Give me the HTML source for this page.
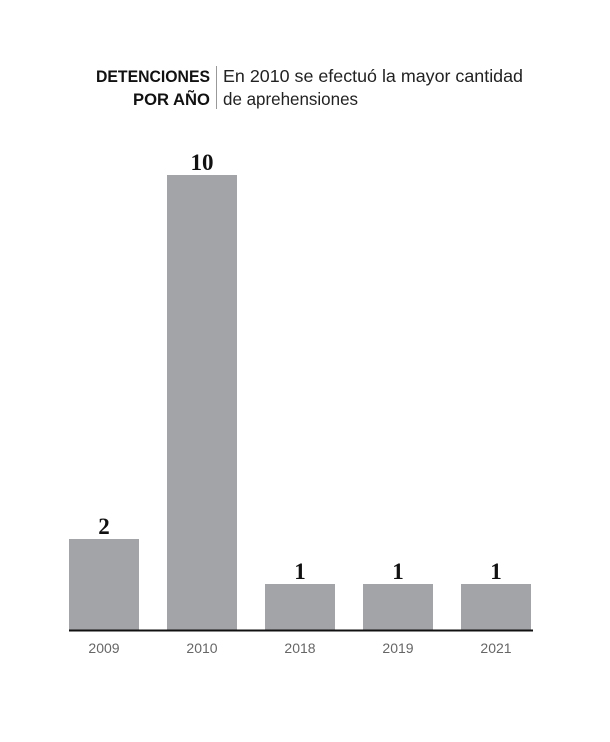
<!DOCTYPE html>
<html><head><meta charset="utf-8"><style>
body{margin:0;background:#fff;width:610px;height:737px;overflow:hidden}
</style></head><body>
<svg width="610" height="737" xmlns="http://www.w3.org/2000/svg">
<g font-family="Liberation Sans, sans-serif">
<text x="210" y="82" text-anchor="end" font-weight="bold" font-size="17" fill="#111" textLength="114" lengthAdjust="spacingAndGlyphs">DETENCIONES</text>
<text x="210" y="105" text-anchor="end" font-weight="bold" font-size="17" fill="#111" textLength="77" lengthAdjust="spacingAndGlyphs">POR AÑO</text>
<line x1="216.5" y1="66" x2="216.5" y2="109" stroke="#999" stroke-width="1"/>
<text x="223" y="82" font-size="17.5" fill="#222" textLength="300" lengthAdjust="spacingAndGlyphs">En 2010 se efectuó la mayor cantidad</text>
<text x="223" y="105" font-size="17.5" fill="#222" textLength="135" lengthAdjust="spacingAndGlyphs">de aprehensiones</text>
</g>
<g fill="#a3a4a7">
<rect x="69" y="539" width="70" height="91"/>
<rect x="167" y="175" width="70" height="455"/>
<rect x="265" y="584" width="70" height="46"/>
<rect x="363" y="584" width="70" height="46"/>
<rect x="461" y="584" width="70" height="46"/>
</g>
<line x1="69" y1="630.5" x2="533" y2="630.5" stroke="#111" stroke-width="2"/>
<g font-family="Liberation Serif, serif" font-weight="bold" font-size="23" text-anchor="middle" fill="#111">
<text x="104" y="534">2</text>
<text x="202" y="170">10</text>
<text x="300" y="579">1</text>
<text x="398" y="579">1</text>
<text x="496" y="579">1</text>
</g>
<g font-family="Liberation Sans, sans-serif" font-size="14" text-anchor="middle" fill="#666">
<text x="104" y="653">2009</text>
<text x="202" y="653">2010</text>
<text x="300" y="653">2018</text>
<text x="398" y="653">2019</text>
<text x="496" y="653">2021</text>
</g>
</svg>
</body></html>
